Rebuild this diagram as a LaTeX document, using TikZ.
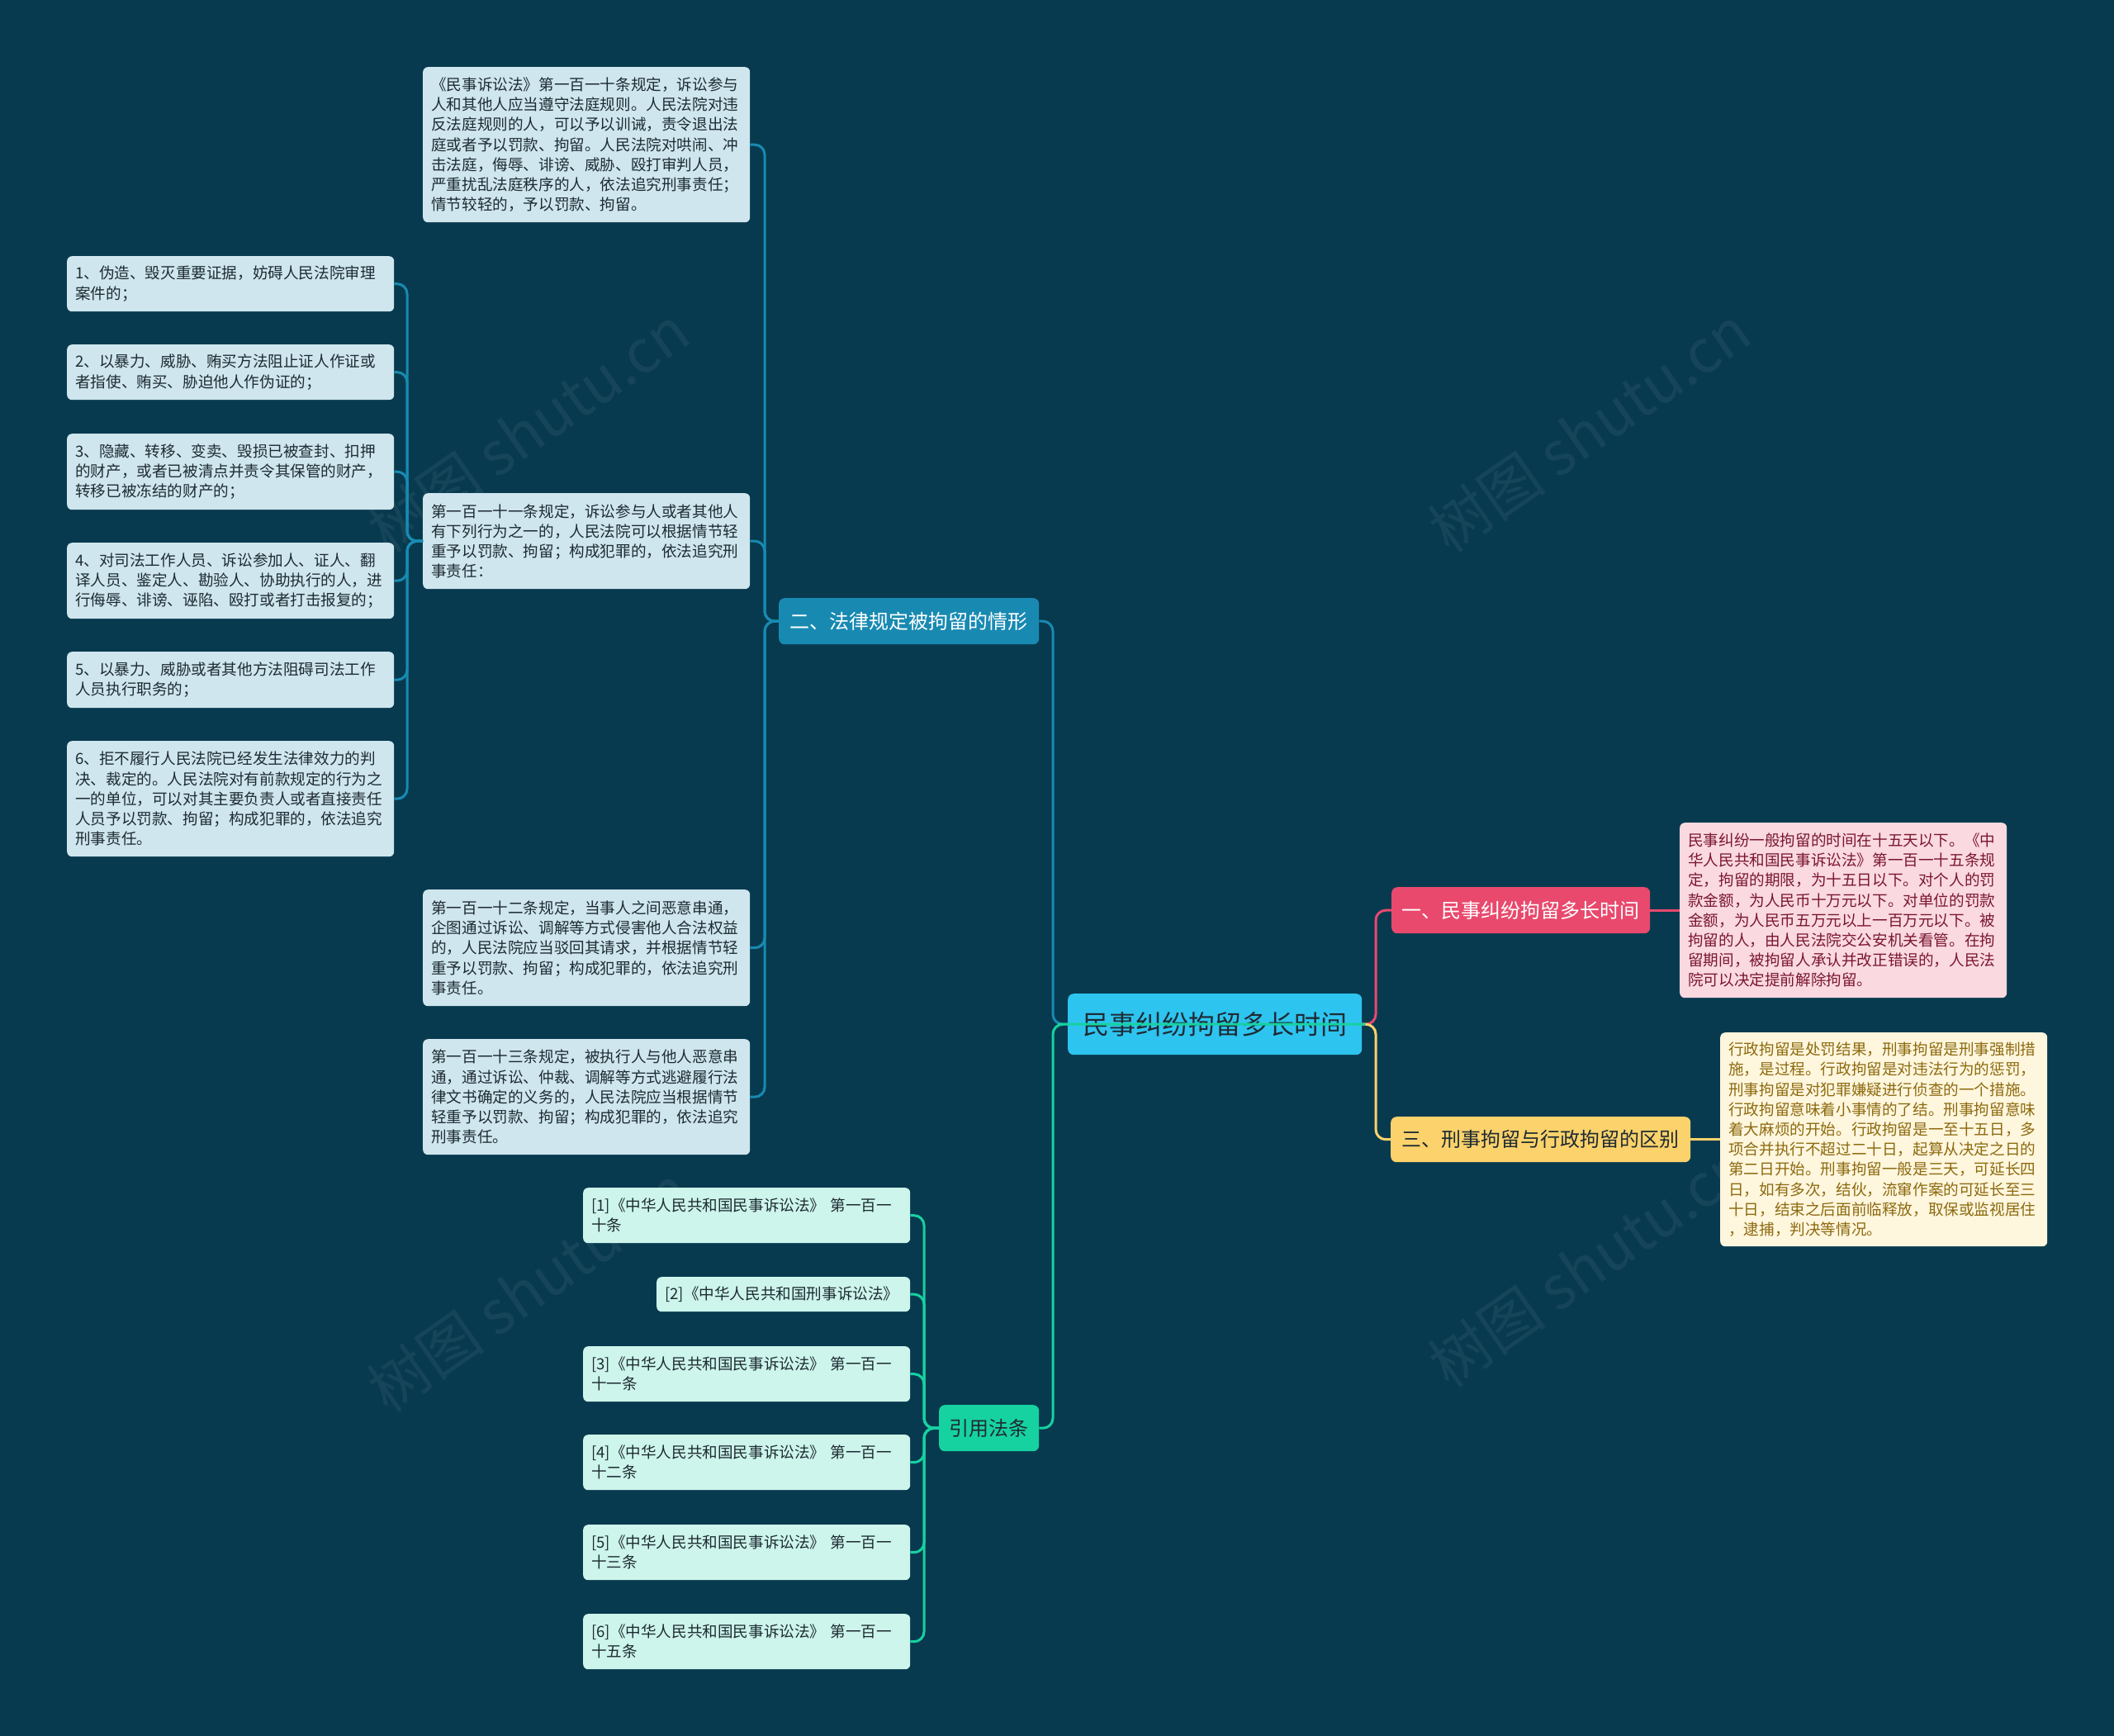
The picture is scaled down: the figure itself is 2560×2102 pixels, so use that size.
\documentclass[tikz,border=0pt]{standalone}
\usepackage{fontspec}
\setmainfont{Noto Sans CJK SC}
\definecolor{bg}{HTML}{083A4F}
\definecolor{lblue}{HTML}{CFE6EE}
\definecolor{dtext}{HTML}{1E2B33}
\definecolor{cblue}{HTML}{188AB2}
\definecolor{croot}{HTML}{2EC4F0}
\definecolor{cpink}{HTML}{E9496D}
\definecolor{lpink}{HTML}{FAD9E0}
\definecolor{tpink}{HTML}{7A1630}
\definecolor{cyel}{HTML}{FBD26B}
\definecolor{lyel}{HTML}{FFF6DE}
\definecolor{tyel}{HTML}{8C6A0E}
\definecolor{cgreen}{HTML}{16D2A0}
\definecolor{lgreen}{HTML}{CDF5EB}
\begin{document}
\begin{tikzpicture}[x=1pt,y=-1pt,
  conn/.style={line width=3pt, rounded corners=12pt},
  tbox/.style={rounded corners=6pt, inner xsep=10pt, inner ysep=0pt, align=left,
    anchor=north west, font=\fontsize{18.6}{24.2}\selectfont, text width=376pt},
  lbox/.style={tbox, fill=lblue, text=dtext},
  gbox/.style={tbox, fill=lgreen, text=dtext},
  mnode/.style={rounded corners=7pt, inner sep=0pt, anchor=north west,
    font=\fontsize{24}{28}\selectfont, align=center},
  wmark/.style={text=white, opacity=0.06, rotate=35, font=\fontsize{72}{80}\selectfont}]
\fill[bg] (0,0) rectangle (2560,2102);
\useasboundingbox (0,0) rectangle (2560,2102);

% watermarks
\node[wmark] (w1) at (640,520) {树图 shutu.cn};
\node[wmark] (w2) at (1925,520) {树图 shutu.cn};
\node[wmark] (w3) at (640,1560) {树图 shutu.cn};
\node[wmark] (w4) at (1925,1530) {树图 shutu.cn};

% vertical guide coordinates
\coordinate (vL) at (1275,0);
\coordinate (vR) at (1666,0);
\coordinate (v2) at (926,0);
\coordinate (vB) at (493,0);
\coordinate (vRef) at (1119,0);

% main nodes
\node[mnode, fill=croot, text=dtext, minimum width=356pt, minimum height=74pt,
  font=\fontsize{32}{36}\selectfont] (root) at (1293,1203) {民事纠纷拘留多长时间};
\node[mnode, fill=cblue, text=white, minimum width=315pt, minimum height=56pt] (n2) at (943,724) {二、法律规定被拘留的情形};
\node[mnode, fill=cpink, text=white, minimum width=313pt, minimum height=56pt] (n1) at (1685,1074) {一、民事纠纷拘留多长时间};
\node[mnode, fill=cyel, text=dtext, minimum width=363pt, minimum height=55pt] (n3) at (1684,1352) {三、刑事拘留与行政拘留的区别};
\node[mnode, fill=cgreen, text=dtext, minimum width=121pt, minimum height=56pt] (nr) at (1137,1701) {引用法条};

% branch 2 children
\node[lbox, minimum height=188pt] (A) at (512,81) {《民事诉讼法》第一百一十条规定，诉讼参与\\人和其他人应当遵守法庭规则。人民法院对违\\反法庭规则的人，可以予以训诫，责令退出法\\庭或者予以罚款、拘留。人民法院对哄闹、冲\\击法庭，侮辱、诽谤、威胁、殴打审判人员，\\严重扰乱法庭秩序的人，依法追究刑事责任；\\情节较轻的，予以罚款、拘留。};
\node[lbox, minimum height=116pt] (B) at (512,597) {第一百一十一条规定，诉讼参与人或者其他人\\有下列行为之一的，人民法院可以根据情节轻\\重予以罚款、拘留；构成犯罪的，依法追究刑\\事责任：};
\node[lbox, minimum height=141pt] (C) at (512,1077) {第一百一十二条规定，当事人之间恶意串通，\\企图通过诉讼、调解等方式侵害他人合法权益\\的，人民法院应当驳回其请求，并根据情节轻\\重予以罚款、拘留；构成犯罪的，依法追究刑\\事责任。};
\node[lbox, minimum height=140pt] (D) at (512,1258) {第一百一十三条规定，被执行人与他人恶意串\\通，通过诉讼、仲裁、调解等方式逃避履行法\\律文书确定的义务的，人民法院应当根据情节\\轻重予以罚款、拘留；构成犯罪的，依法追究\\刑事责任。};

% items of B
\node[lbox, minimum height=67pt] (i1) at (81,310) {1、伪造、毁灭重要证据，妨碍人民法院审理\\案件的；};
\node[lbox, minimum height=67pt] (i2) at (81,417) {2、以暴力、威胁、贿买方法阻止证人作证或\\者指使、贿买、胁迫他人作伪证的；};
\node[lbox, minimum height=92pt] (i3) at (81,525) {3、隐藏、转移、变卖、毁损已被查封、扣押\\的财产，或者已被清点并责令其保管的财产，\\转移已被冻结的财产的；};
\node[lbox, minimum height=92pt] (i4) at (81,657) {4、对司法工作人员、诉讼参加人、证人、翻\\译人员、鉴定人、勘验人、协助执行的人，进\\行侮辱、诽谤、诬陷、殴打或者打击报复的；};
\node[lbox, minimum height=68pt] (i5) at (81,789) {5、以暴力、威胁或者其他方法阻碍司法工作\\人员执行职务的；};
\node[lbox, minimum height=140pt] (i6) at (81,897) {6、拒不履行人民法院已经发生法律效力的判\\决、裁定的。人民法院对有前款规定的行为之\\一的单位，可以对其主要负责人或者直接责任\\人员予以罚款、拘留；构成犯罪的，依法追究\\刑事责任。};

% right side boxes
\node[tbox, fill=lpink, text=tpink, minimum height=212pt] (P) at (2034,996) {民事纠纷一般拘留的时间在十五天以下。《中\\华人民共和国民事诉讼法》第一百一十五条规\\定，拘留的期限，为十五日以下。对个人的罚\\款金额，为人民币十万元以下。对单位的罚款\\金额，为人民币五万元以上一百万元以下。被\\拘留的人，由人民法院交公安机关看管。在拘\\留期间，被拘留人承认并改正错误的，人民法\\院可以决定提前解除拘留。};
\node[tbox, fill=lyel, text=tyel, minimum height=259pt] (Y) at (2083,1250) {行政拘留是处罚结果，刑事拘留是刑事强制措\\施，是过程。行政拘留是对违法行为的惩罚，\\刑事拘留是对犯罪嫌疑进行侦查的一个措施。\\行政拘留意味着小事情的了结。刑事拘留意味\\着大麻烦的开始。行政拘留是一至十五日，多\\项合并执行不超过二十日，起算从决定之日的\\第二日开始。刑事拘留一般是三天，可延长四\\日，如有多次，结伙，流窜作案的可延长至三\\十日，结束之后面前临释放，取保或监视居住\\，逮捕，判决等情况。};

% refs
\node[gbox, minimum height=67pt] (r1) at (706,1438) {[1]《中华人民共和国民事诉讼法》 第一百一\\十条};
\node[gbox, minimum height=42pt, text width=287pt] (r2) at (795,1546) {[2]《中华人民共和国刑事诉讼法》};
\node[gbox, minimum height=67pt] (r3) at (706,1630) {[3]《中华人民共和国民事诉讼法》 第一百一\\十一条};
\node[gbox, minimum height=67pt] (r4) at (706,1737) {[4]《中华人民共和国民事诉讼法》 第一百一\\十二条};
\node[gbox, minimum height=67pt] (r5) at (706,1846) {[5]《中华人民共和国民事诉讼法》 第一百一\\十三条};
\node[gbox, minimum height=67pt] (r6) at (706,1954) {[6]《中华人民共和国民事诉讼法》 第一百一\\十五条};

% connectors
\begin{scope}[on background layer/.style={}]
\end{scope}
\draw[conn, cblue] (root.west) -| (vL |- n2.east) -- (n2.east);
\draw[conn, cpink] (root.east) -| (vR |- n1.west) -- (n1.west);
\draw[conn, cyel] (root.east) -| (vR |- n3.west) -- (n3.west);
\draw[conn, cpink] (n1.east) -- (P.west |- n1.east);
\draw[conn, cyel] (n3.east) -- (Y.west |- n3.east);
\foreach \c in {A,B,C,D} {
  \draw[conn, cblue] (n2.west) -| (v2 |- \c.east) -- (\c.east);
}
\foreach \c in {i1,i2,i3,i4,i5,i6} {
  \draw[conn, cblue] (B.west) -| (vB |- \c.east) -- (\c.east);
}
\foreach \c in {r1,r2,r3,r4,r5,r6} {
  \draw[conn, cgreen] (nr.west) -| (vRef |- \c.east) -- (\c.east);
}
\draw[conn, cgreen] ([xshift=4pt]root.east) -- (root.west) -| (vL |- nr.east) -- (nr.east);
\end{tikzpicture}
\end{document}
